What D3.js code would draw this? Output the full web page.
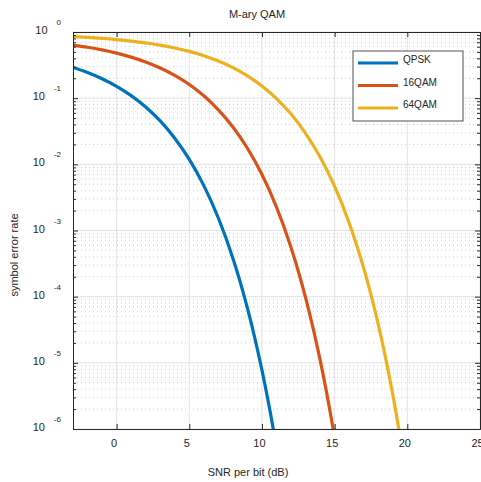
<!DOCTYPE html>
<html>
<head>
<meta charset="utf-8">
<script src="https://cdn.jsdelivr.net/npm/d3@7"></script>
<style>
  body { margin: 0; background: #fff; }
  text { font-family: 'Liberation Sans', Arial, Helvetica, sans-serif; fill: #262626; }
</style>
</head>
<body>
<div id="chart"></div>
<script>
// values (symbol error rate vs Eb/N0 in dB)
const snrDb = [-3, -2, -1, 0, 1, 2, 3, 4, 5, 6, 7, 8, 9, 10, 11, 12, 13, 14, 15, 16, 17, 18, 19, 20]

const serQpsk = [0.2918, 0.2443, 0.1967, 0.1511, 0.1093, 0.0736, 0.0453, 0.0248,
  0.01188, 0.00477, 0.001545, 3.82e-4, 6.72e-5, 7.74e-6, 5.22e-7, 1.8e-8]

const ser16qam = [0.6339, 0.5883, 0.5363, 0.4792, 0.4174, 0.3522, 0.2856, 0.2208,
  0.1607, 0.1085, 0.0667, 0.0367, 0.01749, 0.00701, 0.002259, 5.55e-4, 9.69e-5,
  1.107e-5, 7.38e-7, 2.49e-8]

const ser64qam = [0.8533, 0.8296, 0.8016, 0.7686, 0.7297, 0.6846, 0.6327, 0.5741,
  0.5089, 0.4382, 0.364, 0.2892, 0.2175, 0.153, 0.0987, 0.0575, 0.02946, 0.01288,
  0.004629, 0.001302, 2.7e-4, 3.82e-5, 3.32e-6, 1.58e-7]

const seriesNames = ['QPSK', '16QAM', '64QAM']
const seriesColors = ['#0072BD', '#D95319', '#EDB120']
const xTicks = [0, 5, 10, 15, 20, 25]
const yExponents = [0, -1, -2, -3, -4, -5, -6]

const margin = { top: 32, right: 1, bottom: 53, left: 73 }
const width = 481 - margin.left - margin.right
const height = 482 - margin.top - margin.bottom

const root = d3
  .select('#chart')
  .append('svg')
  .attr('width', 481)
  .attr('height', 482)

const svg = root
  .append('g')
  .attr('transform', 'translate(' + margin.left + ',' + margin.top + ')')

const xPositionScale = d3.scaleLinear().domain([-3, 25]).range([0, width])
const yPositionScale = d3.scaleLog().domain([1e-6, 1]).range([height, 0])

// minor ticks 2..9 of every decade
const minorTicks = []
yExponents.slice(0, -1).forEach(e => {
  for (let m = 2; m <= 9; m++) minorTicks.push(m * Math.pow(10, e - 1))
})
const majorTicks = yExponents.map(e => Math.pow(10, e))

// grid
svg
  .append('g')
  .selectAll('line')
  .data(minorTicks)
  .enter()
  .append('line')
  .attr('x1', 0)
  .attr('x2', width)
  .attr('y1', d => yPositionScale(d))
  .attr('y2', d => yPositionScale(d))
  .attr('stroke', '#cdcdcd')
  .attr('stroke-dasharray', '1,3')

svg
  .append('g')
  .selectAll('line')
  .data(majorTicks)
  .enter()
  .append('line')
  .attr('x1', 0)
  .attr('x2', width)
  .attr('y1', d => yPositionScale(d))
  .attr('y2', d => yPositionScale(d))
  .attr('stroke', '#e3e3e3')

svg
  .append('g')
  .selectAll('line')
  .data(xTicks)
  .enter()
  .append('line')
  .attr('x1', d => xPositionScale(d))
  .attr('x2', d => xPositionScale(d))
  .attr('y1', 0)
  .attr('y2', height)
  .attr('stroke', '#e3e3e3')

// curves
svg
  .append('clipPath')
  .attr('id', 'plot-clip')
  .append('rect')
  .attr('width', width)
  .attr('height', height)

const line = d3
  .line()
  .x((d, i) => xPositionScale(snrDb[i]))
  .y(d => yPositionScale(d))
  .curve(d3.curveCatmullRom)

const curves = [serQpsk, ser16qam, ser64qam]

svg
  .append('g')
  .attr('clip-path', 'url(#plot-clip)')
  .selectAll('path')
  .data(curves)
  .enter()
  .append('path')
  .attr('d', d => line(d))
  .attr('fill', 'none')
  .attr('stroke', (d, i) => seriesColors[i])
  .attr('stroke-width', 3.2)

// axes (ticks point inward, box all round)
const axisColor = '#262626'

svg
  .append('g')
  .attr('class', 'axis x-axis')
  .attr('transform', 'translate(0,' + height + ')')
  .call(d3.axisBottom(xPositionScale).tickValues(xTicks).tickSizeInner(-5).tickSizeOuter(0).tickPadding(10))

svg
  .append('g')
  .attr('class', 'axis x-top')
  .call(d3.axisTop(xPositionScale).tickValues(xTicks).tickSizeInner(-5).tickSizeOuter(0).tickFormat(''))

svg
  .append('g')
  .attr('class', 'axis y-axis')
  .call(d3.axisLeft(yPositionScale).tickValues(majorTicks).tickSizeInner(-5).tickSizeOuter(0).tickFormat(''))

svg
  .append('g')
  .attr('class', 'axis y-minor')
  .call(d3.axisLeft(yPositionScale).tickValues(minorTicks).tickSizeInner(-3).tickSizeOuter(0).tickFormat(''))

svg
  .append('g')
  .attr('class', 'axis y-right')
  .attr('transform', 'translate(' + width + ',0)')
  .call(d3.axisRight(yPositionScale).tickValues(majorTicks).tickSizeInner(-5).tickSizeOuter(0).tickFormat(''))

svg
  .append('g')
  .attr('class', 'axis y-right-minor')
  .attr('transform', 'translate(' + width + ',0)')
  .call(d3.axisRight(yPositionScale).tickValues(minorTicks).tickSizeInner(-3).tickSizeOuter(0).tickFormat(''))

svg.selectAll('.axis path, .axis line').attr('stroke', axisColor)
svg
  .selectAll('.x-axis text')
  .attr('font-size', 11)
  .attr('fill', axisColor)
  .attr('font-family', null)
  .attr('dx', -3)

// y tick labels as 10 with superscript
const yLabels = svg
  .append('g')
  .selectAll('text')
  .data(yExponents)
  .enter()
  .append('text')
  .attr('x', -12)
  .attr('y', d => yPositionScale(Math.pow(10, d)) + 2)
  .attr('text-anchor', 'end')
  .attr('font-size', 11)

yLabels.append('tspan').text('10')
yLabels
  .append('tspan')
  .attr('dx', 9)
  .attr('dy', -9)
  .attr('font-size', 8)
  .text(d => d)

// titles
root
  .append('text')
  .attr('x', 257)
  .attr('y', 18)
  .attr('text-anchor', 'middle')
  .attr('font-size', 11)
  .text('M-ary QAM')

root
  .append('text')
  .attr('x', 248)
  .attr('y', 476)
  .attr('text-anchor', 'middle')
  .attr('font-size', 11)
  .text('SNR per bit (dB)')

root
  .append('text')
  .attr('transform', 'translate(18,255) rotate(-90)')
  .attr('text-anchor', 'middle')
  .attr('font-size', 11)
  .text('symbol error rate')

// legend
const legend = root.append('g').attr('transform', 'translate(353,51)')

legend
  .append('rect')
  .attr('width', 110)
  .attr('height', 70)
  .attr('fill', '#fff')
  .attr('stroke', axisColor)
  .attr('stroke-width', 0.8)

const items = legend
  .selectAll('g')
  .data(seriesNames)
  .enter()
  .append('g')
  .attr('transform', (d, i) => 'translate(0,' + (12 + i * 22.5) + ')')

items
  .append('line')
  .attr('x1', 5)
  .attr('x2', 45)
  .attr('stroke', (d, i) => seriesColors[i])
  .attr('stroke-width', 3.2)

items
  .append('text')
  .attr('x', 50)
  .attr('y', 0)
  .attr('font-size', 10)
  .text(d => d)
</script>
</body>
</html>
